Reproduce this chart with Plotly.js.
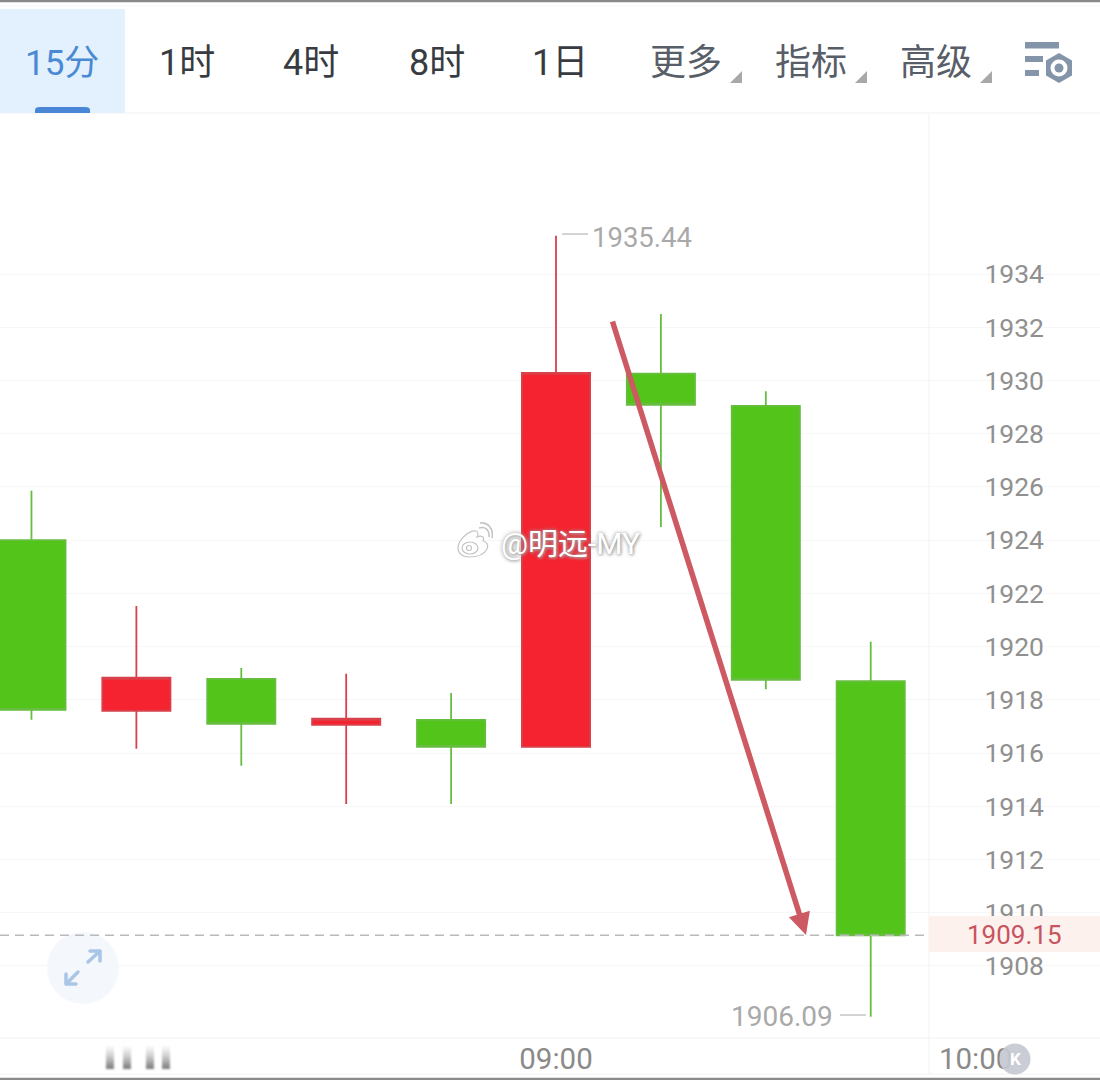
<!DOCTYPE html>
<html>
<head>
<meta charset="utf-8">
<script src="https://cdn.plot.ly/plotly-3.0.1.min.js"></script>
<style>html,body{margin:0;padding:0;background:#fff;overflow:hidden}#c{width:1100px;height:1080px}</style>
</head>
<body>
<div id="c"></div>
<script>
// ---- data ----
const times  = ['2023-01-01 07:45','2023-01-01 08:00','2023-01-01 08:15','2023-01-01 08:30','2023-01-01 08:45','2023-01-01 09:00','2023-01-01 09:15','2023-01-01 09:30','2023-01-01 09:45'];
const opens  = [1924.00,1917.59,1918.79,1917.06,1917.25,1916.23,1930.26,1929.05,1918.70];
const highs  = [1925.86,1921.53,1919.20,1918.98,1918.26,1935.44,1932.50,1929.60,1920.18];
const lows   = [1917.25,1916.16,1915.52,1914.09,1914.09,1916.23,1924.50,1918.40,1906.09];
const closes = [1917.62,1918.83,1917.10,1917.29,1916.23,1930.29,1929.09,1918.75,1909.15];
const yTicks = [1908,1910,1912,1914,1916,1918,1920,1922,1924,1926,1928,1930,1932,1934];
const xTicks = ['2023-01-01 09:00','2023-01-01 10:00'];
const tabsBlack = [['1时',187],['4时',311],['8时',437],['1日',560]];
const tabsGrey  = [['更多',686],['指标',811],['高级',936]];
const lastPrice = closes[closes.length-1];
const hi = Math.max(...highs), lo = Math.min(...lows);

// ---- page-pixel helpers for the app chrome ----
const X = p => p/1100, Y = p => 1-p/1080;
const FONT = 'Roboto, "Noto Sans CJK SC", sans-serif';
const rect = (x0,y0,x1,y1,c,extra={}) => Object.assign({type:'rect',xref:'paper',yref:'paper',x0:X(x0),x1:X(x1),y0:Y(y0),y1:Y(y1),fillcolor:c,line:{width:0},layer:'above'},extra);
const hline = (x0,x1,y,c,w=1) => ({type:'line',xref:'paper',yref:'paper',x0:X(x0),x1:X(x1),y0:Y(y),y1:Y(y),line:{color:c,width:w},layer:'above'});
const vline = (x,y0,y1,c,w=1) => ({type:'line',xref:'paper',yref:'paper',x0:X(x),x1:X(x),y0:Y(y0),y1:Y(y1),line:{color:c,width:w},layer:'above'});
const circle = (cx,cy,r,c,extra={}) => Object.assign({type:'circle',xref:'paper',yref:'paper',x0:X(cx-r),x1:X(cx+r),y0:Y(cy-r),y1:Y(cy+r),fillcolor:c,line:{width:0},layer:'above'},extra);
const label = (text,x,y,size,color,anchor='center',extra={}) => Object.assign({text,x:X(x),y:Y(y),xref:'paper',yref:'paper',xanchor:anchor,yanchor:'middle',showarrow:false,font:{family:FONT,size,color},borderpad:0},extra);
const img = (body,x,y,w,h,layer='above') => ({source:'data:image/svg+xml;charset=utf-8,'+encodeURIComponent(`<svg xmlns="http://www.w3.org/2000/svg" width="${w}" height="${h}" viewBox="0 0 ${w} ${h}">${body}</svg>`),xref:'paper',yref:'paper',x:X(x),y:Y(y),sizex:w/1100,sizey:h/1080,xanchor:'left',yanchor:'top',sizing:'stretch',layer});

const trace = {
  type:'candlestick', x:times, open:opens, high:highs, low:lows, close:closes,
  whiskerwidth:0,
  increasing:{fillcolor:'#f5222f',line:{color:'#d8404b',width:1.8}},
  decreasing:{fillcolor:'#52c41a',line:{color:'#66bd40',width:1.8}},
  hoverinfo:'skip', showlegend:false
};

const shapes = [
  hline(0,1100,1,'#8a8a8a',2.5), hline(0,1100,1079,'#8a8a8a',2.5),
  hline(0,1100,6,'#f8f8f8'), hline(0,1100,113,'#f2f2f2'), hline(0,1100,1038,'#f2f2f2'), hline(0,1100,1074,'#f2f2f2'),
  vline(929,113,1074,'#f2f2f2'),
  rect(0,9,125,113,'#e3f0fd'),
  {type:'path',xref:'paper',yref:'paper',layer:'above',fillcolor:'#4a86d6',line:{width:0},
   path:`M ${X(35)} ${Y(113)} L ${X(35)} ${Y(110)} Q ${X(35)} ${Y(107)} ${X(40)} ${Y(107)} L ${X(85)} ${Y(107)} Q ${X(90)} ${Y(107)} ${X(90)} ${Y(110)} L ${X(90)} ${Y(113)} Z`},
  rect(929,916,1100,952,'#fdf1ee'),
  {type:'line',xref:'paper',yref:'y',x0:0,x1:X(929),y0:lastPrice,y1:lastPrice,layer:'above',line:{color:'#b9b9b9',width:1.5,dash:'9px 6px'}},
  hline(562,588,234,'#c4c4c4',1.5), hline(840,866,1015,'#c4c4c4',1.5),
  circle(1015,1059,15.5,'#c6c9d3',{opacity:.92})
];

const annotations = [
  label('15分',62,63,35,'#4a8ad4'),
  ...tabsBlack.map(t=>label(t[0],t[1],63,36,'#383c42')),
  ...tabsGrey.map(t=>label(t[0],t[1],63,36,'#585e68')),
  label(hi.toFixed(2),591,238,27.5,'#a9a9a9','left'),
  label(lo.toFixed(2),834,1016,28,'#a9a9a9','right'),
  label(lastPrice.toFixed(2),1014.5,934.5,26,'#c8545e'),
  label('K',1015,1059,17,'#ffffff','center',{font:{family:FONT,size:17,color:'#fff',weight:700}}),
  label('@明远-MY',500,543,30,'#ffffff','left',{font:{family:FONT,size:30,color:'#ffffff',shadow:'0 0 4px #999, 1px 1px 3px #aaa'}}),
  {x:X(806),y:Y(935),xref:'paper',yref:'paper',ax:612-806,ay:320-935,axref:'pixel',ayref:'pixel',text:'',showarrow:true,arrowhead:2,arrowsize:0.8,arrowwidth:5.5,arrowcolor:'#cd5a62'}
];

const tri = `<path d="M12 0 L12 12 L0 12 Z" fill="#a8a8a8"/>`;
const images = [
  img(tri,730,71,12,12), img(tri,855,71,12,12), img(tri,980,71,12,12),
  img(`<g fill="#8595a9"><rect x="0" y="0" width="34" height="6.5"/><rect x="0" y="14" width="18" height="6"/><rect x="0" y="28" width="14" height="6"/></g>
       <path d="M34 11 L47 18.5 L47 33.5 L34 41 L21 33.5 L21 18.5 Z" fill="#8595a9"/><circle cx="34" cy="26" r="8.5" fill="#fff"/><circle cx="34" cy="26" r="4.5" fill="#8595a9"/>`,1025,42,50,42),
  img(`<circle cx="36" cy="36" r="36" fill="#f4f7fc"/><g fill="none" stroke="#a9c6e6" stroke-width="3.5" stroke-linecap="round" stroke-linejoin="round"><path d="M41 30 L53 19 M43 19 L53 19 L53 29"/><path d="M19 52 L31 40 M19 42 L19 52 L29 52"/></g>`,47,932,72,72),
  img(`<defs><filter id="b"><feGaussianBlur stdDeviation="1.2"/></filter><linearGradient id="g" x1="0" y1="0" x2="0" y2="1"><stop offset="0" stop-color="#aaa" stop-opacity="0.05"/><stop offset="1" stop-color="#777"/></linearGradient></defs>
       <g fill="url(#g)" filter="url(#b)"><rect x="4" y="3" width="8" height="23"/><rect x="21" y="3" width="8" height="23"/><rect x="44" y="3" width="8" height="23"/><rect x="60" y="3" width="8" height="23"/></g>`,102,1043,72,28),
  img(`<g fill="#fff" stroke="#c4c4c4" stroke-width="1.2"><path d="M2 26 C2 17 14 8 20 9 C23 10 22 13 21 15 C26 13 29 15 27 19 C31 20 33 23 31 27 C28 33 20 35 13 35 C6 35 2 31 2 26 Z"/><ellipse cx="14" cy="26" rx="8" ry="6"/><circle cx="13" cy="26" r="2.5"/></g>
       <path d="M23 6 C29 4 34 8 33 15 M24 1 C32 0 38 7 36 16" fill="none" stroke="#c4c4c4" stroke-width="1.6"/>`,456,522,37,37)
];

const layout = {
  width:1100, height:1080,
  margin:{l:0,r:0,t:0,b:0,pad:0},
  paper_bgcolor:'#fff', plot_bgcolor:'#fff',
  showlegend:false, dragmode:false, hovermode:false,
  boxgap:0.2, boxgroupgap:0.1875,
  xaxis:{
    type:'date', domain:[0,1], range:['2023-01-01 07:40:30','2023-01-01 10:17:47'],
    rangeslider:{visible:false}, showgrid:false, zeroline:false, showline:false,
    tickmode:'array', tickvals:xTicks, tickformat:'%H:%M', ticklen:0,
    tickfont:{family:FONT,size:29.5,color:'#8a8a8a'}
  },
  yaxis:{
    domain:[1-1038/1080,1-113/1080], range:[1905.293,1940.053],
    side:'right', ticklabelposition:'inside', ticklabelstandoff:53,
    tickmode:'array', tickvals:yTicks, ticklen:0,
    showgrid:true, gridcolor:'#f7f7f7', gridwidth:1, zeroline:false, showline:false,
    tickfont:{family:FONT,size:26.5,color:'#909090'}
  },
  shapes, annotations, images
};
Plotly.newPlot('c',[trace],layout,{displayModeBar:false,staticPlot:true});
</script>
</body>
</html>
